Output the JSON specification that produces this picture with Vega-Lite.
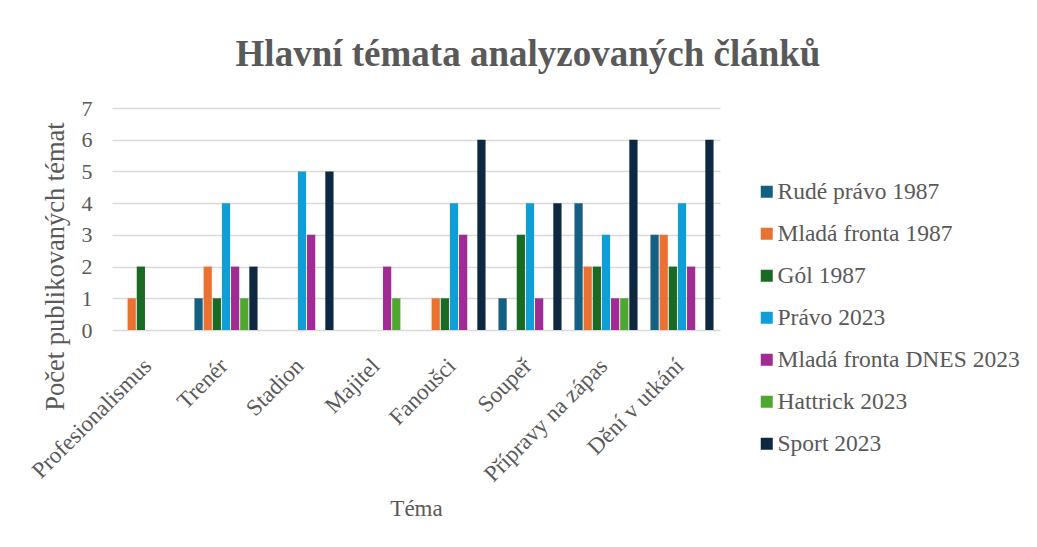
{
  "$schema": "https://vega.github.io/schema/vega-lite/v6.json",
  "width": 608,
  "height": 222,
  "autosize": {"type": "none"},
  "padding": {"left": 112, "top": 108, "right": 317, "bottom": 217},
  "background": "white",
  "title": {
    "text": "Hlavní témata analyzovaných článků",
    "font": "Liberation Serif",
    "fontSize": 37,
    "fontWeight": "bold",
    "color": "#595959",
    "anchor": "middle",
    "dx": 112,
    "offset": 23
  },
  "data": {
    "values": [
      {"tema": "Profesionalismus", "noviny": "Rudé právo 1987", "pocet": 0},
      {"tema": "Profesionalismus", "noviny": "Mladá fronta 1987", "pocet": 1},
      {"tema": "Profesionalismus", "noviny": "Gól 1987", "pocet": 2},
      {"tema": "Profesionalismus", "noviny": "Právo 2023", "pocet": 0},
      {"tema": "Profesionalismus", "noviny": "Mladá fronta DNES 2023", "pocet": 0},
      {"tema": "Profesionalismus", "noviny": "Hattrick 2023", "pocet": 0},
      {"tema": "Profesionalismus", "noviny": "Sport 2023", "pocet": 0},
      {"tema": "Trenér", "noviny": "Rudé právo 1987", "pocet": 1},
      {"tema": "Trenér", "noviny": "Mladá fronta 1987", "pocet": 2},
      {"tema": "Trenér", "noviny": "Gól 1987", "pocet": 1},
      {"tema": "Trenér", "noviny": "Právo 2023", "pocet": 4},
      {"tema": "Trenér", "noviny": "Mladá fronta DNES 2023", "pocet": 2},
      {"tema": "Trenér", "noviny": "Hattrick 2023", "pocet": 1},
      {"tema": "Trenér", "noviny": "Sport 2023", "pocet": 2},
      {"tema": "Stadion", "noviny": "Rudé právo 1987", "pocet": 0},
      {"tema": "Stadion", "noviny": "Mladá fronta 1987", "pocet": 0},
      {"tema": "Stadion", "noviny": "Gól 1987", "pocet": 0},
      {"tema": "Stadion", "noviny": "Právo 2023", "pocet": 5},
      {"tema": "Stadion", "noviny": "Mladá fronta DNES 2023", "pocet": 3},
      {"tema": "Stadion", "noviny": "Hattrick 2023", "pocet": 0},
      {"tema": "Stadion", "noviny": "Sport 2023", "pocet": 5},
      {"tema": "Majitel", "noviny": "Rudé právo 1987", "pocet": 0},
      {"tema": "Majitel", "noviny": "Mladá fronta 1987", "pocet": 0},
      {"tema": "Majitel", "noviny": "Gól 1987", "pocet": 0},
      {"tema": "Majitel", "noviny": "Právo 2023", "pocet": 0},
      {"tema": "Majitel", "noviny": "Mladá fronta DNES 2023", "pocet": 2},
      {"tema": "Majitel", "noviny": "Hattrick 2023", "pocet": 1},
      {"tema": "Majitel", "noviny": "Sport 2023", "pocet": 0},
      {"tema": "Fanoušci", "noviny": "Rudé právo 1987", "pocet": 0},
      {"tema": "Fanoušci", "noviny": "Mladá fronta 1987", "pocet": 1},
      {"tema": "Fanoušci", "noviny": "Gól 1987", "pocet": 1},
      {"tema": "Fanoušci", "noviny": "Právo 2023", "pocet": 4},
      {"tema": "Fanoušci", "noviny": "Mladá fronta DNES 2023", "pocet": 3},
      {"tema": "Fanoušci", "noviny": "Hattrick 2023", "pocet": 0},
      {"tema": "Fanoušci", "noviny": "Sport 2023", "pocet": 6},
      {"tema": "Soupeř", "noviny": "Rudé právo 1987", "pocet": 1},
      {"tema": "Soupeř", "noviny": "Mladá fronta 1987", "pocet": 0},
      {"tema": "Soupeř", "noviny": "Gól 1987", "pocet": 3},
      {"tema": "Soupeř", "noviny": "Právo 2023", "pocet": 4},
      {"tema": "Soupeř", "noviny": "Mladá fronta DNES 2023", "pocet": 1},
      {"tema": "Soupeř", "noviny": "Hattrick 2023", "pocet": 0},
      {"tema": "Soupeř", "noviny": "Sport 2023", "pocet": 4},
      {"tema": "Přípravy na zápas", "noviny": "Rudé právo 1987", "pocet": 4},
      {"tema": "Přípravy na zápas", "noviny": "Mladá fronta 1987", "pocet": 2},
      {"tema": "Přípravy na zápas", "noviny": "Gól 1987", "pocet": 2},
      {"tema": "Přípravy na zápas", "noviny": "Právo 2023", "pocet": 3},
      {"tema": "Přípravy na zápas", "noviny": "Mladá fronta DNES 2023", "pocet": 1},
      {"tema": "Přípravy na zápas", "noviny": "Hattrick 2023", "pocet": 1},
      {"tema": "Přípravy na zápas", "noviny": "Sport 2023", "pocet": 6},
      {"tema": "Dění v utkání", "noviny": "Rudé právo 1987", "pocet": 3},
      {"tema": "Dění v utkání", "noviny": "Mladá fronta 1987", "pocet": 3},
      {"tema": "Dění v utkání", "noviny": "Gól 1987", "pocet": 2},
      {"tema": "Dění v utkání", "noviny": "Právo 2023", "pocet": 4},
      {"tema": "Dění v utkání", "noviny": "Mladá fronta DNES 2023", "pocet": 2},
      {"tema": "Dění v utkání", "noviny": "Hattrick 2023", "pocet": 0},
      {"tema": "Dění v utkání", "noviny": "Sport 2023", "pocet": 6}
    ]
  },
  "mark": {"type": "bar"},
  "encoding": {
    "x": {
      "field": "tema",
      "type": "nominal",
      "sort": ["Profesionalismus", "Trenér", "Stadion", "Majitel", "Fanoušci", "Soupeř", "Přípravy na zápas", "Dění v utkání"],
      "scale": {"paddingInner": 0.17, "paddingOuter": 0.085},
      "axis": {
        "labelAngle": -45,
        "labelAlign": "right",
        "labelBaseline": "middle",
        "labelPadding": 32,
        "labelOffset": -2,
        "labelFont": "Liberation Serif",
        "labelFontSize": 23,
        "labelColor": "#595959",
        "labelLimit": 0,
        "ticks": false,
        "domain": false,
        "title": "Téma",
        "titleFont": "Liberation Serif",
        "titleFontSize": 23,
        "titleFontWeight": "normal",
        "titleColor": "#595959",
        "titleX": 304,
        "titleY": 178,
        "titleAlign": "center",
        "titleBaseline": "middle"
      }
    },
    "xOffset": {
      "field": "noviny",
      "type": "nominal",
      "sort": ["Rudé právo 1987", "Mladá fronta 1987", "Gól 1987", "Právo 2023", "Mladá fronta DNES 2023", "Hattrick 2023", "Sport 2023"],
      "scale": {"paddingInner": 0.1}
    },
    "y": {
      "field": "pocet",
      "type": "quantitative",
      "scale": {"domain": [0, 7]},
      "axis": {
        "values": [0, 1, 2, 3, 4, 5, 6, 7],
        "grid": true,
        "gridColor": "#D9D9D9",
        "gridWidth": 1.5,
        "domain": false,
        "ticks": false,
        "labelFont": "Liberation Serif",
        "labelFontSize": 22,
        "labelColor": "#595959",
        "labelPadding": 20,
        "title": "Počet publikovaných témat",
        "titleFont": "Liberation Serif",
        "titleFontSize": 26.5,
        "titleFontWeight": "normal",
        "titleColor": "#595959",
        "titleX": -57,
        "titleY": 158,
        "titleAngle": 270,
        "titleAlign": "center",
        "titleBaseline": "middle"
      }
    },
    "color": {
      "field": "noviny",
      "type": "nominal",
      "sort": ["Rudé právo 1987", "Mladá fronta 1987", "Gól 1987", "Právo 2023", "Mladá fronta DNES 2023", "Hattrick 2023", "Sport 2023"],
      "scale": {
        "domain": ["Rudé právo 1987", "Mladá fronta 1987", "Gól 1987", "Právo 2023", "Mladá fronta DNES 2023", "Hattrick 2023", "Sport 2023"],
        "range": ["#156082", "#E97132", "#196B24", "#0F9ED5", "#A02B93", "#4EA72E", "#0E2841"]
      },
      "legend": {
        "title": null,
        "orient": "none",
        "legendX": 643,
        "legendY": 72,
        "symbolType": "square",
        "symbolSize": 144,
        "symbolStrokeWidth": 0,
        "labelFont": "Liberation Serif",
        "labelFontSize": 23.5,
        "labelColor": "#595959",
        "labelOffset": -1,
        "rowPadding": 17,
        "labelLimit": 0
      }
    }
  },
  "config": {"view": {"stroke": null}}
}
